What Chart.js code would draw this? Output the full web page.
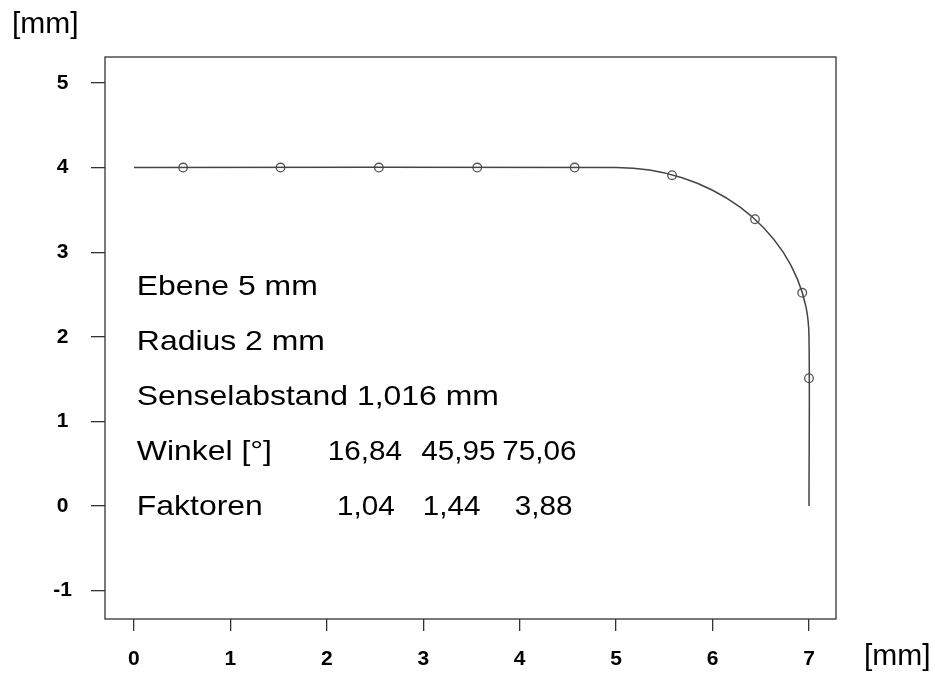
<!DOCTYPE html>
<html>
<head>
<meta charset="utf-8">
<script src="https://cdn.jsdelivr.net/npm/chart.js@4/dist/chart.umd.min.js"></script>
<style>
  html, body { margin: 0; padding: 0; background: #fff; }
  #wrap { width: 935px; height: 673px; }
</style>
</head>
<body>
<div id="wrap"><canvas id="c" width="935" height="673"></canvas></div>
<script>
// Profile contour: flat plane, then 2 mm radius, then vertical flank
const profileX = [0, 5.0, 5.347, 5.684, 6.0, 6.286, 6.532, 6.732, 6.879, 6.970, 7.0, 7.0];
const profileY = [4, 4, 3.970, 3.879, 3.732, 3.532, 3.286, 3.0, 2.684, 2.347, 2.0, 0];

// Sensel sample positions along the contour
const senselX = [0.51, 1.52, 2.54, 3.56, 4.57, 5.58, 6.44, 6.93, 7.0];
const senselY = [4, 4, 4, 4, 4, 3.91, 3.39, 2.52, 1.51];

// Axis ticks
const xTicks = [0, 1, 2, 3, 4, 5, 6, 7];
const yTicks = [-1, 0, 1, 2, 3, 4, 5];

// Annotation block
const noteLines = ["Ebene 5 mm", "Radius 2 mm", "Senselabstand 1,016 mm", "Winkel [°]", "Faktoren"];
const noteRowY = [2.6, 1.95, 1.3, 0.65, 0];
const winkel = [16.84, 45.95, 75.06];
const faktoren = [1.04, 1.44, 3.88];
const unitLabel = "[mm]";

const ink = '#333333';
const fmt = v => v.toFixed(2).replace('.', ',');

const frameAndNotes = {
  id: 'frameAndNotes',
  afterDatasetsDraw(chart) {
    const { ctx, chartArea: a, scales: { x, y } } = chart;
    ctx.save();
    // plot frame
    ctx.strokeStyle = ink;
    ctx.lineWidth = 1.3;
    ctx.strokeRect(a.left, a.top, a.right - a.left, a.bottom - a.top);

    // annotation text, slightly widened glyphs
    ctx.fillStyle = '#000';
    ctx.textBaseline = 'middle';
    ctx.textAlign = 'left';
    ctx.font = '28.5px "Liberation Sans", Arial, sans-serif';
    const put = (txt, dx, dy, sx) => {
      ctx.save();
      ctx.translate(x.getPixelForValue(dx), y.getPixelForValue(dy) + 1);
      ctx.scale(sx, 1);
      ctx.fillText(txt, 0, 0);
      ctx.restore();
    };
    noteLines.forEach((t, i) => put(t, 0.03, noteRowY[i], 1.12));
    const winkelCols = [2.01, 2.98, 3.82];
    const faktorCols = [2.105, 2.996, 3.95];
    winkel.forEach((v, i) => put(fmt(v), winkelCols[i], noteRowY[3], 1.04));
    faktoren.forEach((v, i) => put(fmt(v), faktorCols[i], noteRowY[4], 1.04));

    // unit labels
    ctx.font = '30px "Liberation Sans", Arial, sans-serif';
    ctx.fillText(unitLabel, 12, 25);
    ctx.fillText(unitLabel, a.right + 28, 657);
    ctx.restore();
  }
};

new Chart(document.getElementById('c'), {
  type: 'scatter',
  data: {
    datasets: [
      {
        type: 'line',
        data: profileX.map((v, i) => ({ x: v, y: profileY[i] })),
        borderColor: '#444444',
        borderWidth: 1.5,
        pointRadius: 0,
        tension: 0.35,
        fill: false
      },
      {
        data: senselX.map((v, i) => ({ x: v, y: senselY[i] })),
        pointStyle: 'circle',
        pointRadius: 4.3,
        pointBorderWidth: 1.3,
        pointBorderColor: '#555555',
        pointBackgroundColor: 'rgba(0,0,0,0)',
        showLine: false
      }
    ]
  },
  options: {
    responsive: false,
    animation: false,
    layout: { padding: { top: 57, right: 99, left: 0, bottom: 0 } },
    plugins: { legend: { display: false }, tooltip: { enabled: false } },
    scales: {
      x: {
        type: 'linear',
        min: -0.30,
        max: 7.28,
        afterBuildTicks: s => { s.ticks = xTicks.map(v => ({ value: v })); },
        afterFit: s => { s.height = 54; },
        border: { display: false },
        grid: { drawOnChartArea: false, drawTicks: true, tickLength: 12, color: ink, lineWidth: 1.3 },
        ticks: {
          padding: 16,
          color: '#000',
          font: { family: '"Liberation Sans", Arial, sans-serif', size: 21, weight: 'bold' },
          callback: v => String(v)
        }
      },
      y: {
        type: 'linear',
        min: -1.336,
        max: 5.307,
        afterBuildTicks: s => { s.ticks = yTicks.map(v => ({ value: v })); },
        afterFit: s => { s.width = 105; },
        border: { display: false },
        grid: { drawOnChartArea: false, drawTicks: true, tickLength: 14, color: ink, lineWidth: 1.3 },
        ticks: {
          padding: 19,
          crossAlign: 'center',
          color: '#000',
          font: { family: '"Liberation Sans", Arial, sans-serif', size: 21, weight: 'bold' },
          callback: v => String(v)
        }
      }
    }
  },
  plugins: [frameAndNotes]
});
</script>
</body>
</html>
